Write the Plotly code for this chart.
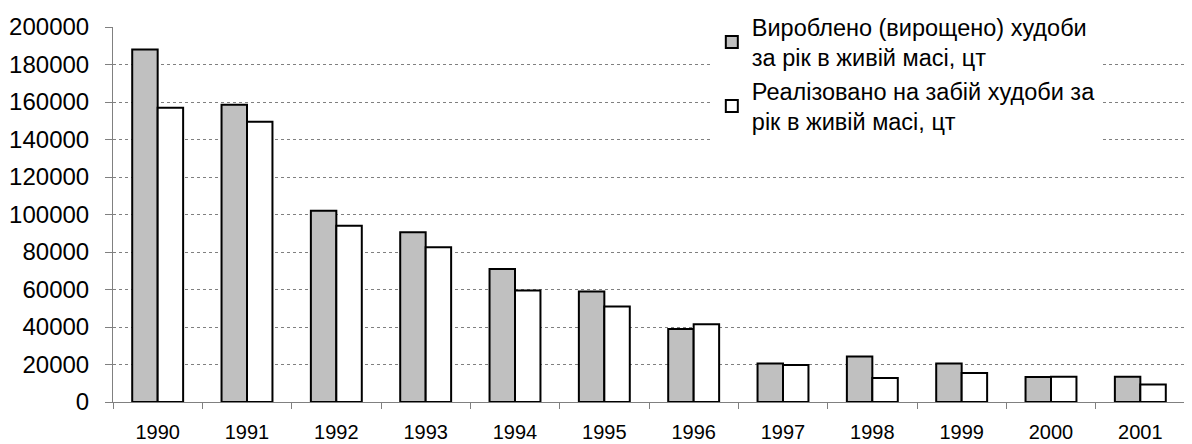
import plotly.graph_objects as go

years = ["1990", "1991", "1992", "1993", "1994", "1995", "1996", "1997", "1998", "1999", "2000", "2001"]
produced = [188000, 158500, 102000, 90500, 71000, 59000, 39000, 20500, 24300, 20500, 13300, 13500]
sold = [157000, 149500, 94000, 82500, 59500, 51000, 41500, 19700, 12800, 15500, 13500, 9300]

name_produced = "Вироблено (вирощено) худоби<br>за рік в живій масі, цт"
name_sold = "Реалізовано на забій худоби за<br>рік в живій масі, цт"

font_family = "Arial, 'Liberation Sans', sans-serif"

fig = go.Figure()
fig.add_trace(go.Bar(x=years, y=produced, name=name_produced,
                     marker=dict(color="#c0c0c0", line=dict(color="black", width=2))))
fig.add_trace(go.Bar(x=years, y=sold, name=name_sold,
                     marker=dict(color="white", line=dict(color="black", width=2))))

# page body has an 8px margin, so the figure is sized to fit the 1192x444 window
fig.update_layout(
    width=1184, height=436,
    margin=dict(l=105, r=7, t=19, b=42, autoexpand=False),
    paper_bgcolor="white", plot_bgcolor="white",
    barmode="group", bargap=0.43, bargroupgap=0,
    font=dict(family=font_family, size=20, color="black"),
    legend=dict(x=0.5586, y=1.059, xanchor="left", yanchor="top",
                bgcolor="white", borderwidth=0,
                font=dict(family=font_family, size=23.5, color="black"),
                itemsizing="constant"),
    showlegend=True,
)
fig.update_yaxes(range=[0, 200000], dtick=20000, showgrid=True, gridcolor="#808080",
                 griddash="dot", gridwidth=1, showline=True, linecolor="#808080", linewidth=1,
                 ticks="outside", ticklen=7, tickcolor="#808080", zeroline=False,
                 tickfont=dict(size=24), tickformat="d", ticklabelstandoff=11)
fig.update_xaxes(showline=True, linecolor="#808080", linewidth=1, ticks="outside",
                 tickson="boundaries", ticklen=6, tickcolor="#808080",
                 tickfont=dict(size=20), showgrid=False, ticklabelstandoff=12)

fig.write_html("out.html")
